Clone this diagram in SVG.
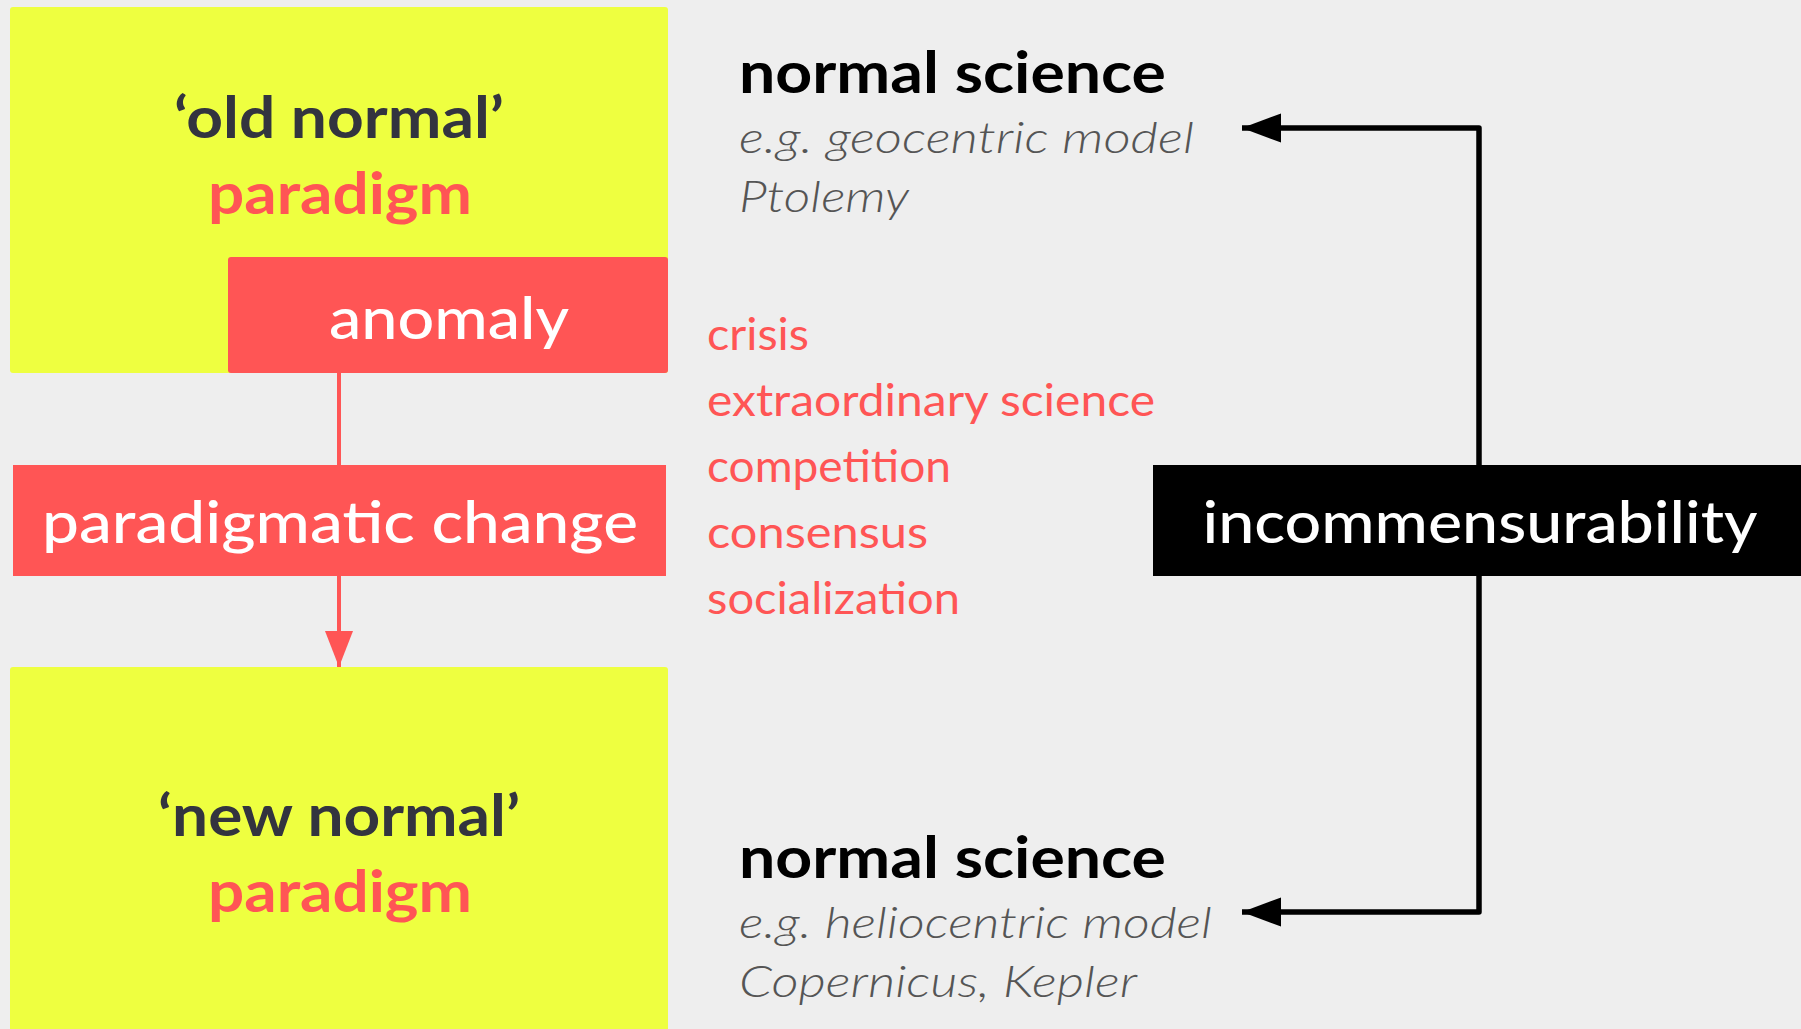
<svg xmlns="http://www.w3.org/2000/svg" width="1801" height="1029" viewBox="0 0 1801 1029">
  <style>
    .bg { fill: #eeeeee; }
    .paper { fill: #eeff40; }
    .hot { fill: #ff5555; }
    .ink { fill: #000000; }
    text { font-family: Lato, "Noto Sans", "Liberation Sans", sans-serif; }
    .big { font-size: 58px; text-anchor: middle; }
    .dark { fill: #33343f; font-weight: 700; }
    .red { fill: #ff5555; font-weight: 700; }
    .white { fill: #ffffff; font-weight: 500; }
    .head { font-size: 58px; fill: #000000; font-weight: 700; }
    .note { font-size: 43px; fill: #555555; font-style: italic; font-weight: 300; }
    .step { font-size: 45px; fill: #ff5555; }
    .redline { stroke: #ff5555; stroke-width: 4; fill: none; }
    .blackline { stroke: #000000; stroke-width: 5.5; fill: none; stroke-linejoin: round; }
  </style>
  <defs>
    <marker id="redHead" markerUnits="userSpaceOnUse" markerWidth="38" markerHeight="30" refX="36" refY="14" orient="auto">
      <path d="M0,0 L36,14 L0,28 Z" fill="#ff5555"/>
    </marker>
    <marker id="blackHead" markerUnits="userSpaceOnUse" markerWidth="42" markerHeight="30" refX="39" refY="14.5" orient="auto">
      <path d="M0,0 L39,14.5 L0,29 Z" fill="#000000"/>
    </marker>
  </defs>

  <rect class="bg" x="0" y="0" width="1801" height="1029"/>

  <!-- connectors -->
  <g id="connectors">
    <line class="redline" x1="339" y1="373" x2="339" y2="465"/>
    <line class="redline" x1="339" y1="576" x2="339" y2="667" marker-end="url(#redHead)"/>
    <path class="blackline" d="M1479,465 V128 H1242" marker-end="url(#blackHead)"/>
    <path class="blackline" d="M1479,576 V912 H1242" marker-end="url(#blackHead)"/>
  </g>

  <!-- old paradigm block -->
  <g id="old-normal">
    <rect class="paper" x="10" y="7" width="658" height="366" rx="3"/>
    <text class="big dark" x="339" y="138" textLength="330" lengthAdjust="spacingAndGlyphs">‘old normal’</text>
    <text class="big red" x="340" y="214" textLength="264" lengthAdjust="spacingAndGlyphs">paradigm</text>
  </g>

  <g id="anomaly">
    <rect class="hot" x="228" y="257" width="440" height="116" rx="3"/>
    <text class="big white" x="449" y="339" textLength="240" lengthAdjust="spacingAndGlyphs">anomaly</text>
  </g>

  <g id="paradigmatic-change">
    <rect class="hot" x="13" y="465" width="653" height="111"/>
    <text class="big white" x="340" y="543" textLength="596" lengthAdjust="spacingAndGlyphs">paradigmatic change</text>
  </g>

  <!-- new paradigm block -->
  <g id="new-normal">
    <rect class="paper" x="10" y="667" width="658" height="370" rx="3"/>
    <text class="big dark" x="339" y="836" textLength="362" lengthAdjust="spacingAndGlyphs">‘new normal’</text>
    <text class="big red" x="340" y="912" textLength="264" lengthAdjust="spacingAndGlyphs">paradigm</text>
  </g>

  <!-- normal science, before -->
  <g id="normal-science-old">
    <text class="head" x="739" y="93" textLength="427" lengthAdjust="spacingAndGlyphs">normal science</text>
    <text class="note" x="739" y="153" textLength="455" lengthAdjust="spacingAndGlyphs">e.g. geocentric model</text>
    <text class="note" x="739" y="212" textLength="170" lengthAdjust="spacingAndGlyphs">Ptolemy</text>
  </g>

  <!-- stages of the shift -->
  <g id="stages">
    <text class="step" x="707" y="350" textLength="102" lengthAdjust="spacingAndGlyphs">crisis</text>
    <text class="step" x="707" y="416" textLength="448" lengthAdjust="spacingAndGlyphs">extraordinary science</text>
    <text class="step" x="707" y="482" textLength="244" lengthAdjust="spacingAndGlyphs">competition</text>
    <text class="step" x="707" y="548" textLength="221" lengthAdjust="spacingAndGlyphs">consensus</text>
    <text class="step" x="707" y="614" textLength="253" lengthAdjust="spacingAndGlyphs">socialization</text>
  </g>

  <g id="incommensurability">
    <rect class="ink" x="1153" y="465" width="660" height="111"/>
    <text class="big white" x="1480" y="543" textLength="555" lengthAdjust="spacingAndGlyphs">incommensurability</text>
  </g>

  <!-- normal science, after -->
  <g id="normal-science-new">
    <text class="head" x="739" y="878" textLength="427" lengthAdjust="spacingAndGlyphs">normal science</text>
    <text class="note" x="739" y="938" textLength="473" lengthAdjust="spacingAndGlyphs">e.g. heliocentric model</text>
    <text class="note" x="739" y="997" textLength="398" lengthAdjust="spacingAndGlyphs">Copernicus, Kepler</text>
  </g>
</svg>
